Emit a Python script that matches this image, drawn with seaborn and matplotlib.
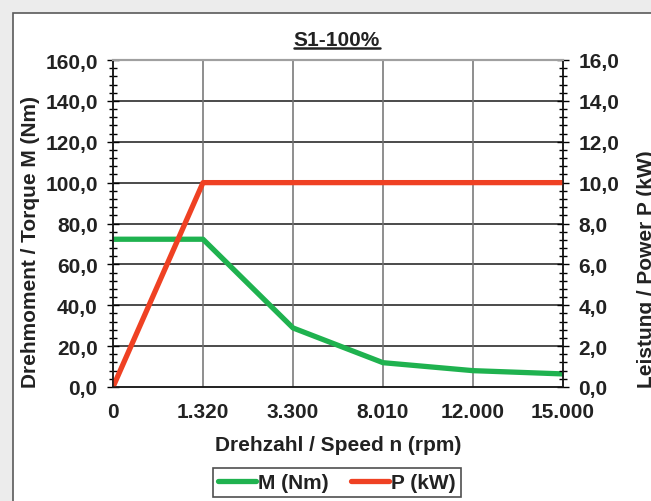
import matplotlib
matplotlib.use("Agg")
import matplotlib.pyplot as plt
from matplotlib.ticker import MultipleLocator
from matplotlib.patches import Rectangle
from matplotlib.lines import Line2D
import seaborn as sns
import pandas as pd

speed_labels = ["0", "1.320", "3.300", "8.010", "12.000", "15.000"]
torque_nm = [72.3, 72.3, 28.9, 11.9, 8.0, 6.4]
power_kw = [0.0, 10.0, 10.0, 10.0, 10.0, 10.0]
left_ticks = [0, 20, 40, 60, 80, 100, 120, 140, 160]
right_ticks = [0, 2, 4, 6, 8, 10, 12, 14, 16]

sns.set_theme(style="white")
plt.rcParams["font.family"] = ["Liberation Sans", "DejaVu Sans"]
plt.rcParams["font.weight"] = "bold"

W, H = 651, 502
fig = plt.figure(figsize=(W / 100, H / 100), dpi=100, facecolor="#ececec")

# white panel
fig.patches.append(Rectangle((13 / W, -0.1), 1.2, (502 - 14) / H + 0.1,
                             transform=fig.transFigure, facecolor="white",
                             edgecolor="#5a5a5a", lw=1.2, zorder=-10))

ax = fig.add_axes([113 / W, 1 - 388 / H, 450 / W, 327 / H])
ax.set_facecolor("none")

df = pd.DataFrame({"pos": list(range(len(speed_labels))),
                   "M": torque_nm, "P": power_kw})

green = "#1fb24f"
red = "#ef4123"

sns.lineplot(data=df, x="pos", y="M", ax=ax, color=green, lw=3.8,
             solid_capstyle="butt", label="M (Nm)", legend=False)
ax2 = ax.twinx()
sns.lineplot(data=df, x="pos", y="P", ax=ax2, color=red, lw=3.8,
             solid_capstyle="butt", label="P (kW)", legend=False)

ax.set_xlim(0, len(speed_labels) - 1)
ax.set_ylim(0, 160)
ax2.set_ylim(0, 16)

ax.set_xticks(df["pos"])
ax.set_xticklabels(speed_labels)
ax.set_yticks(left_ticks)
ax.set_yticklabels([f"{v:.1f}".replace(".", ",") for v in left_ticks])
ax2.set_yticks(right_ticks)
ax2.set_yticklabels([f"{v:.1f}".replace(".", ",") for v in right_ticks])
ax.yaxis.set_minor_locator(MultipleLocator(4))
ax2.yaxis.set_minor_locator(MultipleLocator(0.4))

fs = 15
ax.tick_params(axis="y", which="major", direction="inout", length=8, width=1,
               color="black", labelsize=fs, pad=7)
ax.tick_params(axis="y", which="minor", direction="inout", length=5.5, width=1,
               color="black")
ax2.tick_params(axis="y", which="major", direction="inout", length=8, width=1,
                color="black", labelsize=fs, pad=7)
ax2.tick_params(axis="y", which="minor", direction="inout", length=5.5, width=1,
                color="black")
ax.tick_params(axis="x", which="major", direction="out", length=4, width=1,
               color="#707070", labelsize=fs, pad=7)
for lab in ax.get_xticklabels() + ax.get_yticklabels() + ax2.get_yticklabels():
    lab.set_fontweight("bold")
    lab.set_color("#222222")

# grid
ax.grid(False)
ax2.grid(False)
for v in left_ticks[1:-1]:
    ax.axhline(v, color="#1a1a1a", lw=1.1, zorder=0.5)
for p in df["pos"][1:-1]:
    ax.axvline(p, color="#707070", lw=1.1, zorder=0.5)

for a in (ax, ax2):
    for s in ("left", "bottom", "right"):
        a.spines[s].set_color("#1a1a1a")
        a.spines[s].set_linewidth(1.1)
    a.spines["top"].set_color("#a0a0a0")
    a.spines["top"].set_linewidth(1.5)
    a.set_ylabel("")
ax.set_xlabel("Drehzahl / Speed n (rpm)", fontsize=fs, fontweight="bold",
              color="#222222", labelpad=10)

fig.text(30 / W, 1 - 388 / H, "Drehmoment / Torque M (Nm)", rotation=90,
         rotation_mode="anchor", ha="left", va="center", fontsize=fs,
         fontweight="bold", color="#222222")
fig.text(646 / W, 1 - 388 / H, "Leistung / Power P (kW)", rotation=90,
         rotation_mode="anchor", ha="left", va="center", fontsize=fs,
         fontweight="bold", color="#222222")

title = fig.text(337 / W, 1 - 40 / H, "S1-100%", ha="center", va="center",
                 fontsize=fs, fontweight="bold", color="#222222")

handles = [Line2D([], [], color=green, lw=3.8), Line2D([], [], color=red, lw=3.8)]
leg = fig.legend(handles, ["M (Nm)", "P (kW)"], loc="center",
                 bbox_to_anchor=(337 / W, 1 - 483.5 / H), ncol=2,
                 frameon=True, fancybox=False, edgecolor="#222222",
                 fontsize=fs, handlelength=1.8, handletextpad=0.1,
                 columnspacing=1.1, borderpad=0.25)
leg.get_frame().set_linewidth(1.2)
for t in leg.get_texts():
    t.set_fontweight("bold")
    t.set_color("#222222")

fig.canvas.draw()
bb = title.get_window_extent()
inv = fig.transFigure.inverted()
(x0, y0), (x1, y1) = inv.transform([(bb.x0, bb.y0), (bb.x1, bb.y1)])
fig.lines.append(Line2D([x0, x1], [y0 + 1 / H, y0 + 1 / H], transform=fig.transFigure,
                        color="#222222", lw=1.8))

fig.savefig("out.png", dpi=100, facecolor=fig.get_facecolor())
